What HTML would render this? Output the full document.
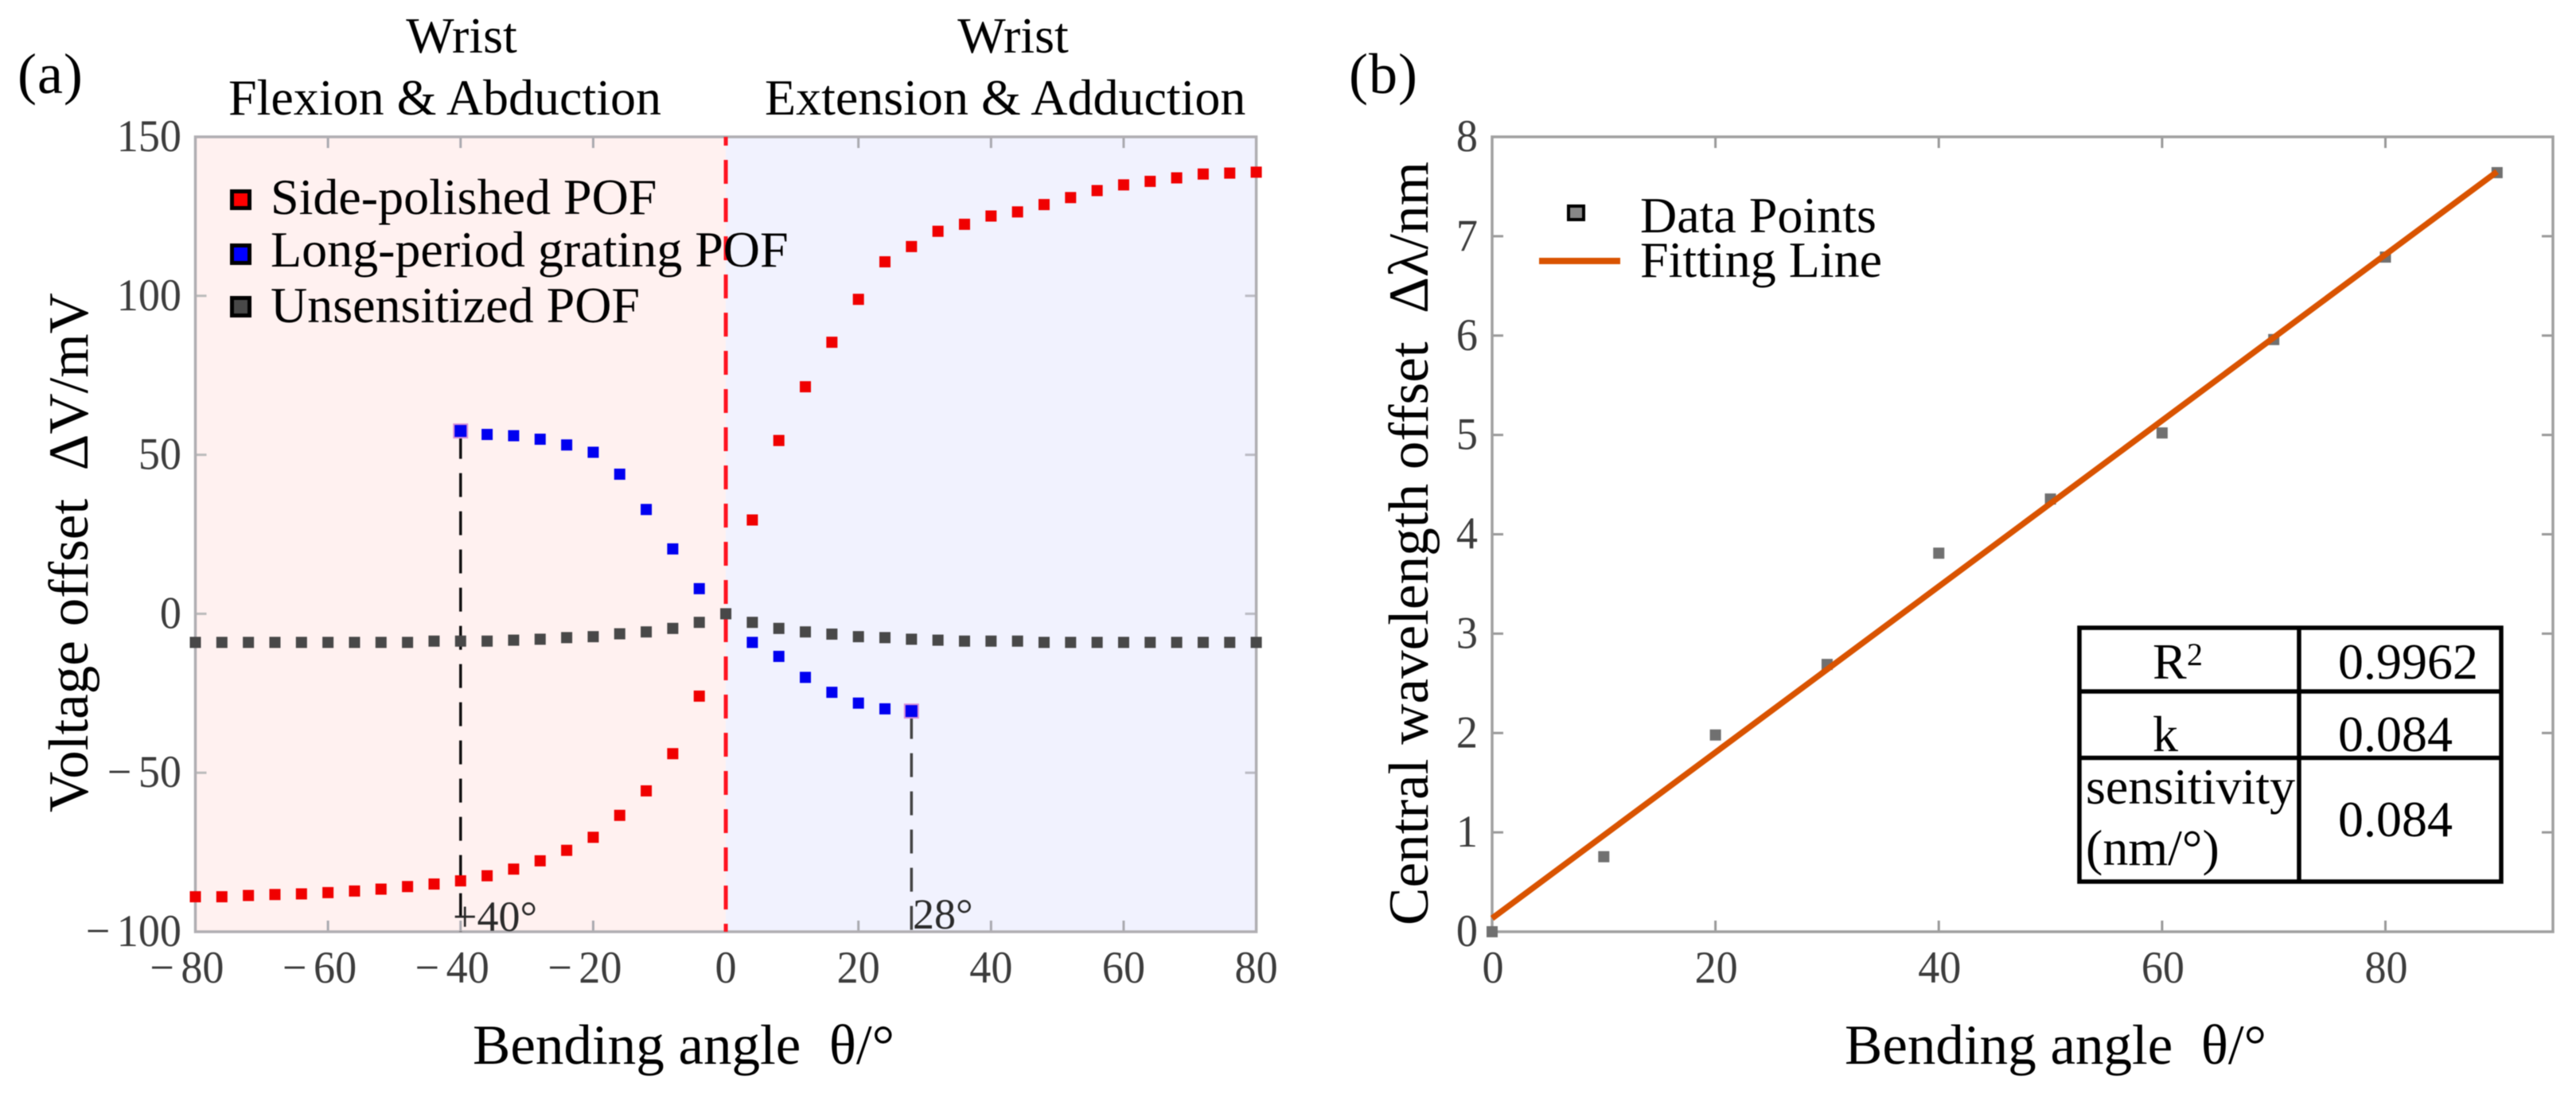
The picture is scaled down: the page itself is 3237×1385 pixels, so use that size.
<!DOCTYPE html>
<html lang="en">
<head>
<meta charset="utf-8">
<title>Bending angle response charts</title>
<style>
html,body{margin:0;padding:0;background:#fff;width:3237px;height:1385px;overflow:hidden}
svg{display:block;filter:blur(0.6px)}
text{font-family:"Liberation Serif","DejaVu Serif",serif;fill:#000}
.tick{font-size:57px;fill:#3c3c3c}
.note{font-size:54px;fill:#2a2a2a}
.big{font-size:71px}
.mid{font-size:64px}
</style>
</head>
<body>
<svg id="chart" xmlns="http://www.w3.org/2000/svg" width="3237" height="1385" viewBox="0 0 3237 1385">
  <rect x="0" y="0" width="3237" height="1385" fill="#fff"/>
  <g id="panelA"></g>
  <g id="panelB"></g>

  <text x="22" y="117" font-size="72" letter-spacing="1">(a)</text>
  <text x="1695" y="117" font-size="72" letter-spacing="1">(b)</text>

  <text class="mid" x="580" y="66" text-anchor="middle">Wrist</text>
  <text class="mid" x="287" y="144">Flexion &amp; Abduction</text>
  <text class="mid" x="1273" y="66" text-anchor="middle">Wrist</text>
  <text class="mid" x="961" y="144">Extension &amp; Adduction</text>

  <text class="big" transform="translate(110 1021) rotate(-90)" textLength="653" lengthAdjust="spacingAndGlyphs" xml:space="preserve">Voltage offset  ΔV/mV</text>
  <text class="big" x="594" y="1337" textLength="530" lengthAdjust="spacingAndGlyphs" xml:space="preserve">Bending angle  θ/°</text>
  <text class="big" transform="translate(1794 1163) rotate(-90)" textLength="960" lengthAdjust="spacingAndGlyphs" xml:space="preserve">Central wavelength offset  Δλ/nm</text>
  <text class="big" x="2318" y="1337" textLength="530" lengthAdjust="spacingAndGlyphs" xml:space="preserve">Bending angle  θ/°</text>

  <g>
    <rect x="291.5" y="240.5" width="22" height="21" fill="#f00" stroke="#000" stroke-width="5"/>
    <text class="mid" x="340" y="269">Side-polished POF</text>
    <rect x="291.5" y="308.5" width="22" height="22" fill="#00f" stroke="#000" stroke-width="5"/>
    <text class="mid" x="340" y="335">Long-period grating POF</text>
    <rect x="291.5" y="374.5" width="22" height="22" fill="#484848" stroke="#000" stroke-width="5"/>
    <text class="mid" x="340" y="405">Unsensitized POF</text>
  </g>

  <g>
    <rect x="1971" y="259" width="19" height="17" fill="#888" stroke="#000" stroke-width="4"/>
    <text class="mid" x="2061" y="292">Data Points</text>
    <line x1="1934" y1="328" x2="2036" y2="328" stroke="#d95300" stroke-width="8"/>
    <text class="mid" x="2061" y="348">Fitting Line</text>
  </g>

  <g>
    <rect x="2613" y="789" width="530" height="319" fill="#fff" stroke="#000" stroke-width="5.5"/>
    <line x1="2889" y1="787" x2="2889" y2="1110" stroke="#000" stroke-width="5.5"/>
    <line x1="2611" y1="869" x2="3145" y2="869" stroke="#000" stroke-width="5.5"/>
    <line x1="2611" y1="952.5" x2="3145" y2="952.5" stroke="#000" stroke-width="5.5"/>
    <text class="mid" x="2705" y="853">R</text>
    <text x="2748" y="836" font-size="40">2</text>
    <text class="mid" x="2938" y="853">0.9962</text>
    <text class="mid" x="2705" y="944">k</text>
    <text class="mid" x="2938" y="944">0.084</text>
    <text class="mid" x="2621" y="1010">sensitivity</text>
    <text class="mid" x="2621" y="1087">(nm/°)</text>
    <text class="mid" x="2938" y="1051">0.084</text>
  </g>
</svg>

<script>
// Panel (a) data
const aAngles = [-80,-76,-72,-68,-64,-60,-56,-52,-48,-44,-40,-36,-32,-28,-24,-20,-16,-12,-8,-4,0,4,8,12,16,20,24,28,32,36,40,44,48,52,56,60,64,68,72,76,80];
const aSidePolished = [-89,-89,-88.6,-88.3,-88.1,-87.7,-87.2,-86.6,-85.8,-85,-84,-82.4,-80.3,-77.7,-74.4,-70.3,-63.4,-55.7,-44,-25.9,null,29.5,54.5,71.4,85.4,98.9,110.7,115.5,120.3,122.5,125.1,126.4,128.7,130.9,133.1,134.9,136,137.1,138.3,138.6,138.9];
const aUnsensitized = [-9,-9,-9,-9,-9,-9,-9,-9,-9,-8.6,-8.6,-8.6,-8.3,-8,-7.5,-7.2,-6.3,-5.7,-4.6,-2.7,0,-2.7,-4.6,-5.7,-6.4,-7.2,-7.5,-8,-8.3,-8.6,-8.6,-8.6,-9,-9,-9,-9,-9,-9,-9,-9,-9];
const aGratingAngles = [-40,-36,-32,-28,-24,-20,-16,-12,-8,-4,4,8,12,16,20,24,28];
const aGrating = [57.5,56.4,56,54.9,53.1,50.8,43.9,32.8,20.4,7.9,-9,-13.4,-20,-24.7,-28.1,-29.9,-30.6];
const aHighlightAngles = [-40,28];
const aXTickLabels = [-80,-60,-40,-20,0,20,40,60,80];
const aYTickLabels = [150,100,50,0,-50,-100];
const aReferenceAngle = [0];

// Panel (b) data
const bAngles = [0,10,20,30,40,50,60,70,80,90];
const bOffsets = [0,0.755,1.98,2.69,3.81,4.355,5.02,5.96,6.79,7.64];
const bFitAngles = [0,90];
const bFitOffsets = [0.135,7.65];
const bXTickLabels = [0,20,40,60,80];
const bYTickLabels = [0,1,2,3,4,5,6,7,8];

const SVG_NS = 'http://www.w3.org/2000/svg';
const panelA = document.getElementById('panelA');
const panelB = document.getElementById('panelB');

function add(parent, tag, props) {
  const node = document.createElementNS(SVG_NS, tag);
  for (const k in props) node.setAttribute(k, props[k]);
  parent.appendChild(node);
  return node;
}

// Axis functions
const A = {l:245.5, r:1578.6, t:172, b:1171};
const B = {l:1875, r:3208, t:172, b:1171};
const xA = v => A.l + (v + 80) * (A.r - A.l) / 160;
const yA = v => A.t + (150 - v) * (A.b - A.t) / 250;
const xB = v => B.l + v * (B.r - B.l) / 95;
const yB = v => B.t + (8 - v) * (B.b - B.t) / 8;

function tickLabel(parent, value, x, y, anchor) {
  const t = add(parent, 'text', {transform:'translate(' + x + ' ' + y + ') scale(0.95 1)', 'text-anchor':anchor, class:'tick'});
  
  
  if (value < 0) {
    t.textContent = '\u2212';
    const d = add(t, 'tspan', {dx:9, class:'tick'});
    d.textContent = String(Math.abs(value));
  } else {
    t.textContent = String(value);
  }
}

function tick(parent, x1, y1, x2, y2, color) {
  const n = add(parent, 'line', {x1:x1, y1:y1, x2:x2, y2:y2, stroke:color, 'stroke-width':3});
  
  
}

function marker(parent, cx, cy, size, fill, stroke) {
  const props = {x:cx - size/2, y:cy - size/2, width:size, height:size, fill:fill};
  if (stroke) { props.stroke = stroke; props['stroke-width'] = 2; }
  return add(parent, 'rect', props);
}

function frame(parent, box, color) {
  const f = add(parent, 'rect', {x:box.l, y:box.t, width:box.r-box.l, height:box.b-box.t, fill:'none', stroke:color, 'stroke-width':3.5});
  
  
}

/* ---------- Panel A ---------- */
const bgLeft = add(panelA, 'rect', {x:A.l, y:A.t, width:xA(0)-A.l, height:A.b-A.t, fill:'#fff1f0'});


const bgRight = add(panelA, 'rect', {x:xA(0), y:A.t, width:A.r-xA(0), height:A.b-A.t, fill:'#f1f2fe'});



aXTickLabels.forEach(v => {
  const x = xA(v);
  if (v !== -80 && v !== 80 && v !== 0) {
    tick(panelA, x, A.t, x, A.t + 14, '#aaaab0');
    tick(panelA, x, A.b, x, A.b - 14, '#aaaab0');
  }
  if (v < 0) tickLabel(panelA, v, x + 36, 1235, 'end');
  else tickLabel(panelA, v, x, 1235, 'middle');
});
aYTickLabels.forEach(v => {
  const y = yA(v);
  if (v !== 150 && v !== -100) {
    tick(panelA, A.l, y, A.l + 14, y, '#bbbbbb');
    tick(panelA, A.r, y, A.r - 14, y, '#bbbbc4');
  }
  tickLabel(panelA, v, 228, y + 18, 'end');
});
frame(panelA, A, '#b0aeb2');

aReferenceAngle.forEach(v => {
  const l = add(panelA, 'line', {x1:xA(v), y1:A.t, x2:xA(v), y2:A.b, stroke:'#ff1420', 'stroke-width':5, 'stroke-dasharray':'30 18', 'stroke-dashoffset':19});
  
  
});

aHighlightAngles.forEach(v => {
  const i = aGratingAngles.indexOf(v);
  const l = add(panelA, 'line', {x1:xA(v), y1:yA(aGrating[i]) + 5, x2:xA(v), y2:A.b, stroke: v < 0 ? '#111' : '#444', 'stroke-width':3.5, 'stroke-dasharray':'30 18'});
  
  
});

const seriesUnsensitized = add(panelA, 'g', {});


aAngles.forEach((a, i) => {
  const m = marker(seriesUnsensitized, xA(a), yA(aUnsensitized[i]), 14, '#484848');
  
  
});

const seriesGrating = add(panelA, 'g', {});


aGratingAngles.forEach((a, i) => {
  const hi = aHighlightAngles.includes(a);
  const m = marker(seriesGrating, xA(a), yA(aGrating[i]), hi ? 17 : 14, '#0000f0', hi ? '#d890d8' : null);
  
  
});

const seriesSide = add(panelA, 'g', {});


aAngles.forEach((a, i) => {
  if (aSidePolished[i] === null) return;
  const m = marker(seriesSide, xA(a), yA(aSidePolished[i]), 14, '#f00000');
  
  
});

const noteLeft = add(panelA, 'text', {x:569, y:1170, class:'note'});


noteLeft.textContent = '+40°';
const noteRight = add(panelA, 'text', {x:1147, y:1167, class:'note'});


noteRight.textContent = '28°';

/* ---------- Panel B ---------- */
bXTickLabels.forEach(v => {
  const x = xB(v);
  if (v !== 0) {
    tick(panelB, x, B.t, x, B.t + 14, '#999');
    tick(panelB, x, B.b, x, B.b - 14, '#999');
  }
  tickLabel(panelB, v, x + 1, 1235, 'middle');
});
bYTickLabels.forEach(v => {
  const y = yB(v);
  if (v !== 0 && v !== 8) {
    tick(panelB, B.l, y, B.l + 14, y, '#999');
    tick(panelB, B.r, y, B.r - 14, y, '#999');
  }
  tickLabel(panelB, v, 1857, y + 18, 'end');
});
frame(panelB, B, '#a0a0a0');

const seriesData = add(panelB, 'g', {});


bAngles.forEach((a, i) => {
  const m = marker(seriesData, xB(a), yB(bOffsets[i]), 14, '#707070');
  
  
});

const fit = add(panelB, 'polyline', {
  points: bFitAngles.map((a, i) => xB(a) + ',' + yB(bFitOffsets[i])).join(' '),
  fill:'none', stroke:'#d95300', 'stroke-width':7.5
});


</script>
</body>
</html>
